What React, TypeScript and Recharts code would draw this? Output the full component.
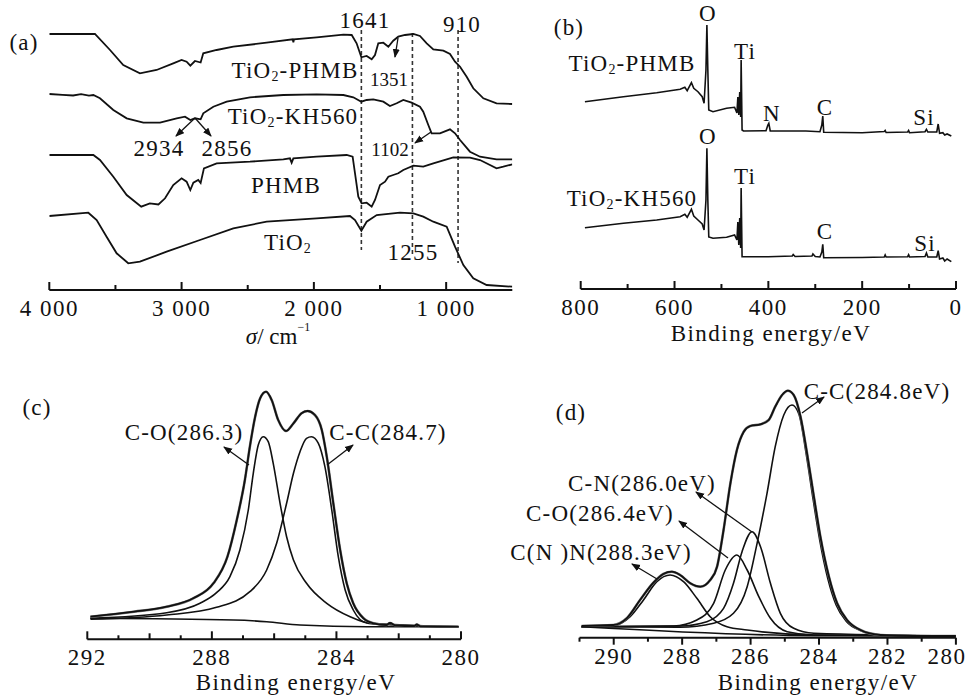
import React from 'react';
import { LineChart, Line, XAxis, YAxis, ReferenceLine } from 'recharts';

const W = 971;
const H = 697;
const FONT = '"Liberation Serif", "Times New Roman", serif';
const FS = 23;

// ---------------- Panel (a) FTIR : [wavenumber, offset] ----------------
const A_TICKS = [4000, 3500, 3000, 2500, 2000, 1500, 1000];
const A_LABELED = [4000, 3000, 2000, 1000];
const A_PEAKS = [1641, 1255, 910];
const A_PEAK_SPAN: [number, number][] = [[30, 250], [33, 257], [30, 263]];

const FTIR_TIO2_PHMB: [number, number][] = [
  [4000, 34], [3655, 34], [3541, 50], [3441, 65], [3315, 73.3], [3189, 70], [3063, 63.3], [3000, 60],
  [2962, 61.7], [2934, 65.7], [2899, 61], [2856, 62.5], [2836, 53.3], [2735, 50], [2609, 46.7], [2357, 42.7],
  [2160, 39.3], [2155, 42.3], [2150, 39.3], [1979, 37.3], [1777, 34.7], [1714, 35], [1677, 43.3], [1641, 57.3],
  [1601, 56], [1563, 59.3], [1538, 55], [1513, 43.3], [1475, 42.7], [1437, 46.7], [1400, 40.7], [1362, 36.7],
  [1311, 35], [1248, 34], [1198, 36], [1147, 43.3], [1097, 49.3], [1021, 50.7], [971, 54], [933, 61.7],
  [895, 66.7], [845, 76.7], [795, 88.3], [719, 98.3], [619, 103.3], [500, 104],
];
const FTIR_TIO2_KH560: [number, number][] = [
  [4000, 94], [3900, 94.8], [3820, 95.5], [3760, 94.2], [3700, 95.6], [3667, 95], [3617, 98.3], [3516, 110],
  [3415, 118.3], [3289, 122.7], [3163, 122.7], [3037, 118.3], [2974, 116.7], [2934, 120], [2899, 118.3],
  [2856, 119.3], [2836, 113.3], [2760, 106.7], [2659, 101.7], [2483, 97.3], [2231, 95], [1979, 94.3],
  [1777, 95], [1702, 97.3], [1641, 101.7], [1601, 100], [1551, 99.3], [1475, 101.7], [1425, 106],
  [1374, 103.3], [1324, 100], [1261, 102.7], [1198, 106.7], [1173, 111.7], [1135, 125], [1110, 133.3],
  [1047, 133.3], [971, 129.3], [933, 133.3], [895, 140], [820, 151.7], [744, 156.7], [619, 159.3], [500, 159.3],
];
const FTIR_PHMB: [number, number][] = [
  [4000, 155], [3667, 155], [3617, 160], [3516, 176.7], [3415, 195], [3305, 206.7], [3240, 203.3],
  [3175, 204.5], [3125, 198.3], [3063, 185], [3000, 178.3], [2962, 181.7], [2934, 190], [2911, 182.7],
  [2874, 180], [2856, 183], [2831, 168.3], [2735, 163.3], [2483, 161.7], [2231, 159.3], [2181, 158.3],
  [2168, 162.7], [2155, 158.3], [1979, 156.7], [1752, 155], [1707, 156.7], [1689, 173.3], [1664, 196.7],
  [1639, 203.3], [1601, 202.7], [1563, 206.7], [1538, 200], [1500, 185], [1462, 181.7], [1437, 176.7],
  [1400, 175], [1362, 173.3], [1324, 170], [1248, 165.7], [1173, 166.7], [1097, 163.3], [946, 157.3],
  [820, 157.7], [744, 160], [619, 168.3], [568, 166.7], [500, 164.3],
];
const FTIR_TIO2: [number, number][] = [
  [4000, 216], [3705, 212.7], [3642, 220], [3567, 236.7], [3491, 253.3], [3403, 263.3], [3315, 261.7],
  [3113, 251.7], [2861, 240], [2609, 228.3], [2357, 221.7], [1979, 218.3], [1727, 216], [1689, 220],
  [1641, 230.7], [1601, 221.7], [1525, 215], [1349, 212.7], [1248, 213.3], [1173, 216.7], [1097, 221.7],
  [996, 226.7], [933, 246.7], [870, 265], [795, 278.3], [694, 285], [500, 286.7],
];

// ---------------- Panel (b) XPS survey : [binding energy, offset] ----------------
const B_TICKS = [800, 700, 600, 500, 400, 300, 200, 100, 0];
const B_LABELED = [800, 600, 400, 200, 0];
const XPS_PHMB: [number, number][] = [
  [791, 101.7], [709, 96.7], [638, 92.7], [588, 89.3], [578, 87.3], [573, 90.7], [564, 82.7], [559, 88.3],
  [550, 91.7], [541, 96.7], [537, 103.3], [533, 70], [531, 25], [529, 70], [527, 110], [518, 111.7],
  [489, 108.3], [472, 107.3], [467, 113], [465, 97], [463, 115], [461, 92], [459, 117], [458, 60],
  [456, 130], [453, 131], [405, 130.7], [401, 125], [399, 123.3], [396, 131], [320, 131], [290, 131.7],
  [286, 125], [284, 116], [282, 132.3], [200, 132.7], [153, 131.5], [151, 130.5], [149, 132.5], [103, 132],
  [101, 130.5], [99, 132.7], [66, 131.7], [63, 129.3], [60, 132], [41, 132], [38, 124], [35, 133.3],
  [28, 132.7], [24, 135], [19, 134], [10, 136],
];
const XPS_KH560: [number, number][] = [
  [791, 227.7], [709, 223.3], [638, 220], [588, 216.7], [578, 214.3], [573, 217.3], [564, 209.3], [559, 216],
  [550, 220], [541, 224], [537, 230], [533, 200], [531, 148.3], [529, 200], [527, 237], [518, 238.3],
  [489, 237.3], [472, 235], [467, 240], [465, 222], [463, 245], [461, 218], [459, 248], [458, 188],
  [456, 256.7], [453, 256.7], [400, 256.7], [349, 256], [347, 254.5], [343, 256.5], [307, 256], [305, 254],
  [300, 256.5], [290, 257], [286, 252], [284, 244.3], [282, 257.7], [200, 257.5], [153, 257], [151, 255],
  [149, 257], [103, 256.7], [101, 254.7], [99, 257], [66, 256.5], [63, 253], [60, 257], [41, 257],
  [38, 250.7], [35, 259], [28, 258], [24, 261], [19, 259], [10, 261.7],
];

// ---------------- Panel (c) C1s TiO2-KH560 : [binding energy, offset] ----------------
const C_TICKS = [292, 291, 290, 289, 288, 287, 286, 285, 284, 283, 282, 281, 280];
const C_LABELED = [292, 288, 284, 280];
const C_MEDIUM = [290, 286, 282];
const C1S_C_ENV: [number, number][] = [
  [291.9, 616.7], [290.5, 611.7], [289.45, 606.7], [288.6, 598.3], [287.95, 583.3], [287.5, 556.7],
  [287.2, 520], [286.94, 480], [286.78, 446.7], [286.61, 416.7], [286.45, 398.3], [286.26, 391.7],
  [286.08, 400], [285.87, 420], [285.62, 431], [285.38, 423.3], [285.12, 413.3], [284.93, 411],
  [284.69, 415], [284.47, 430], [284.31, 456.7], [284.1, 503.3], [283.88, 550], [283.67, 583.3],
  [283.46, 603.3], [283.13, 618.3], [282.81, 623.3], [282.4, 625], [282.28, 623], [282.1, 625.5],
  [281.5, 626], [281.42, 624.5], [281.3, 626.3], [280.08, 626.7],
];
const C1S_C_CO: [number, number][] = [
  [291.9, 618.3], [289.45, 612.7], [288.38, 603.3], [287.85, 592.7], [287.42, 576.7], [287.1, 550],
  [286.83, 510], [286.67, 473.3], [286.51, 445], [286.35, 436.7], [286.19, 441.7], [286.03, 463.3],
  [285.81, 503.3], [285.6, 536.7], [285.38, 560], [284.96, 583.3], [284.31, 603.3], [283.56, 616.7],
  [282.81, 624], [280.08, 626.7],
];
const C1S_C_CC: [number, number][] = [
  [291.9, 619.3], [289.45, 615], [287.85, 607.3], [286.78, 591.7], [286.24, 570], [285.92, 543.3],
  [285.6, 503.3], [285.38, 473.3], [285.17, 451.7], [284.96, 438.3], [284.8, 436.7], [284.58, 443.3],
  [284.37, 466.7], [284.15, 510], [283.94, 556.7], [283.72, 590], [283.46, 610], [283.03, 622.7],
  [280.08, 626.7],
];
const C1S_C_BG: [number, number][] = [
  [291.9, 618.3], [287.3, 620], [286.24, 621.7], [285.17, 625], [283.03, 626.7], [280.08, 626.7],
];

// ---------------- Panel (d) C1s TiO2-PHMB : [binding energy, offset] ----------------
const D_TICKS = [291, 290, 289, 288, 287, 286, 285, 284, 283, 282, 281, 280];
const D_LABELED = [290, 288, 286, 284, 282, 280];
const C1S_D_ENV: [number, number][] = [
  [290.94, 626], [290.01, 625], [289.62, 618.3], [289.23, 600], [288.84, 582.7], [288.55, 574],
  [288.3, 571.7], [288.06, 575], [287.76, 583.3], [287.47, 586.7], [287.18, 580], [286.98, 566.7],
  [286.79, 530], [286.59, 483.3], [286.4, 450], [286.2, 431.7], [286.01, 426], [285.71, 424.3],
  [285.47, 420], [285.28, 406.7], [285.08, 395], [284.91, 390.7], [284.74, 395], [284.54, 416.7],
  [284.35, 453.3], [284.15, 496.7], [283.96, 536.7], [283.71, 576.7], [283.47, 603.3], [283.18, 620],
  [282.79, 630], [282.2, 635], [281.23, 636], [280.0, 636],
];
const C1S_D_CC: [number, number][] = [
  [290.94, 626.7], [288.06, 627.3], [287.08, 623.3], [286.5, 613.3], [286.1, 586.7], [285.81, 543.3],
  [285.52, 493.3], [285.28, 446.7], [285.03, 415], [284.79, 405], [284.59, 414], [284.37, 455],
  [284.17, 500], [283.98, 540], [283.74, 579], [283.5, 605], [283.2, 621.5], [282.79, 630.5],
  [282.2, 635], [280.0, 636],
];
const C1S_D_CN: [number, number][] = [
  [290.94, 626.7], [288.06, 626], [287.28, 621.7], [286.79, 608.3], [286.5, 583.3], [286.25, 551.7],
  [285.96, 531.7], [285.71, 546.7], [285.42, 583.3], [285.13, 613.3], [284.74, 628.3], [284.15, 633.3],
  [280.0, 636],
];
const C1S_D_CO: [number, number][] = [
  [290.94, 626.7], [288.25, 626], [287.57, 620], [287.08, 603.3], [286.74, 570], [286.4, 555],
  [286.1, 570], [285.76, 596.7], [285.42, 618.3], [284.93, 631.7], [284.15, 635], [280.0, 636],
];
const C1S_D_CNN: [number, number][] = [
  [290.94, 626.7], [290.01, 625.7], [289.52, 616.7], [289.13, 600], [288.74, 581.7], [288.35, 575],
  [287.96, 581.7], [287.57, 598.3], [287.18, 616.7], [286.69, 626.7], [286.1, 630], [284.15, 635],
  [280.0, 636],
];
const C1S_D_BG: [number, number][] = [[290.94, 626.7], [284.15, 635.7], [280.0, 636]];

// ---------------- helpers ----------------
const pts = (a: [number, number][]) => a.map(([x, y]) => ({ x, y }));

const fmtA = (v: number) => (v >= 1000 ? `${Math.floor(v / 1000)} ${String(v % 1000).padStart(3, '0')}` : String(v));

const makeTick = (
  labeled: number[],
  medium: number[],
  fmt: (v: number) => string,
  up: boolean,
  lens: [number, number, number],
  labelDy: number,
  edgeShift: Record<number, number> = {},
) => (props: any) => {
  const { x, y, payload } = props;
  const v = payload.value;
  const isMajor = labeled.includes(v);
  const isMed = medium.includes(v);
  const len = isMajor ? lens[0] : isMed ? lens[1] : lens[2];
  const dx = edgeShift[v] || 0;
  return (
    <g>
      <line x1={x} x2={x} y1={y} y2={up ? y - len : y + len} stroke="#111" strokeWidth={2} />
      {isMajor && (
        <text x={x + dx} y={y + labelDy} textAnchor="middle" dominantBaseline="central" fontFamily={FONT}
          fontSize={FS} letterSpacing={1.5} fill="#111">
          {fmt(v)}
        </text>
      )}
    </g>
  );
};

type PanelProps = {
  left: number; right: number; top: number; bottom: number;
  xDomain: [number, number]; ticks: number[]; tick: any;
  children: React.ReactNode;
};

const Panel = ({ left, right, top, bottom, xDomain, ticks, tick, children }: PanelProps) => (
  <div style={{ position: 'absolute', left: 0, top: 0 }}>
    <LineChart width={W} height={H}
      margin={{ left, right: W - right, top, bottom: H - bottom - 40 }}>
      <XAxis dataKey="x" type="number" domain={xDomain} reversed ticks={ticks} interval={0}
        allowDataOverflow height={40} tickSize={0} tickMargin={0} tickLine={false}
        axisLine={{ stroke: '#111', strokeWidth: 2 }} tick={tick} />
      <YAxis hide type="number" domain={[top, bottom]} reversed allowDataOverflow />
      {children}
    </LineChart>
  </div>
);

const line = (key: string, data: [number, number][], w = 1.8, type: any = 'linear', color = '#111') => (
  <Line key={key} data={pts(data)} dataKey="y" type={type} stroke={color} strokeWidth={w}
    dot={false} activeDot={false} isAnimationActive={false} />
);

const T = ({ x, y, size = FS, children, ls = 1.2 }: any) => (
  <text x={x} y={y} textAnchor="middle" dominantBaseline="central" fontFamily={FONT} fontSize={size}
    letterSpacing={ls} fill="#111">
    {children}
  </text>
);

// label of the form TiO2-xxx with a subscript 2
const TiO2 = ({ x, y, rest }: { x: number; y: number; rest?: string }) => (
  <T x={x} y={y}>
    TiO<tspan fontSize={14} dy={6}>2</tspan>
    {rest ? <tspan dy={-6}>{rest}</tspan> : null}
  </T>
);

const Arrow = ({ x1, y1, x2, y2 }: any) => (
  <line x1={x1} y1={y1} x2={x2} y2={y2} stroke="#111" strokeWidth={1.3} markerEnd="url(#ah)" />
);

export default function App() {
  return (
    <div style={{ position: 'absolute', left: 0, top: 0, width: W, height: H, background: '#fff', overflow: 'hidden' }}>
      {/* (a) */}
      <Panel left={49.3} right={512.3} top={0} bottom={290} xDomain={[500, 4000]} ticks={A_TICKS}
        tick={makeTick(A_LABELED, [], fmtA, true, [8, 5, 5], 18)}>
        {A_PEAKS.map((p, i) => (
          <ReferenceLine key={p} segment={[{ x: p, y: A_PEAK_SPAN[i][0] }, { x: p, y: A_PEAK_SPAN[i][1] }]}
            stroke="#333" strokeWidth={1.6} strokeDasharray="4 3" ifOverflow="visible" />
        ))}
        {line('a1', FTIR_TIO2_PHMB)}
        {line('a2', FTIR_TIO2_KH560)}
        {line('a3', FTIR_PHMB)}
        {line('a4', FTIR_TIO2)}
      </Panel>
      {/* (b) */}
      <Panel left={580.7} right={956} top={0} bottom={289} xDomain={[0, 800]} ticks={B_TICKS}
        tick={makeTick(B_LABELED, [], String, true, [8, 5, 5], 18)}>
        {line('b1', XPS_PHMB, 1.6)}
        {line('b2', XPS_KH560, 1.6)}
      </Panel>
      {/* (c) */}
      <Panel left={87.3} right={461} top={360} bottom={639.3} xDomain={[280, 292]} ticks={C_TICKS}
        tick={makeTick(C_LABELED, C_MEDIUM, String, true, [8, 6, 4], 18)}>
        {line('c0', C1S_C_BG, 1.6, 'monotone')}
        {line('c1', C1S_C_CO, 1.6, 'monotone')}
        {line('c2', C1S_C_CC, 1.6, 'monotone')}
        {line('c3', C1S_C_ENV, 2.6, 'monotone', '#777')}
        {line('c4', C1S_C_ENV, 1.8, 'monotone')}
      </Panel>
      {/* (d) */}
      <Panel left={579.5} right={955.9} top={360} bottom={637.7} xDomain={[280, 291]} ticks={D_TICKS}
        tick={makeTick(D_LABELED, [], String, false, [7, 4, 4], 19, { 280: -9 })}>
        {line('d0', C1S_D_BG, 1.6, 'monotone')}
        {line('d1', C1S_D_CNN, 1.6, 'monotone')}
        {line('d2', C1S_D_CO, 1.6, 'monotone')}
        {line('d3', C1S_D_CN, 1.6, 'monotone')}
        {line('d4', C1S_D_CC, 1.6, 'monotone')}
        {line('d5', C1S_D_ENV, 2.6, 'monotone', '#777')}
        {line('d6', C1S_D_ENV, 1.8, 'monotone')}
      </Panel>

      {/* annotations */}
      <svg width={W} height={H} style={{ position: 'absolute', left: 0, top: 0 }}>
        <defs>
          <marker id="ah" markerWidth="9" markerHeight="8" refX="8" refY="4" orient="auto" markerUnits="userSpaceOnUse">
            <path d="M0,0.5 L9,4 L0,7.5 z" fill="#111" />
          </marker>
        </defs>
        {/* (a) */}
        <T x={24} y={42}>(a)</T>
        <T x={365} y={20}>1641</T>
        <T x={462} y={24}>910</T>
        <TiO2 x={295} y={70} rest="-PHMB" />
        <T x={389} y={79} size={19} ls={0}>1351</T>
        <TiO2 x={293} y={116} rest="-KH560" />
        <T x={159} y={148}>2934</T>
        <T x={227} y={148}>2856</T>
        <T x={390} y={149} size={19} ls={0}>1102</T>
        <T x={286} y={185}>PHMB</T>
        <TiO2 x={288} y={242} />
        <T x={413} y={252}>1255</T>
        <Arrow x1={398} y1={38} x2={395} y2={57} />
        <Arrow x1={195} y1={118} x2={176} y2={136} />
        <Arrow x1={195} y1={118} x2={211} y2={136} />
        <Arrow x1={431} y1={132} x2={415} y2={143} />
        <text x={278} y={336} textAnchor="middle" dominantBaseline="central" fontFamily={FONT} fontSize={FS} fill="#111">
          <tspan fontStyle="italic">σ</tspan>/ cm<tspan fontSize={12} dy={-9}>−1</tspan>
        </text>

        {/* (b) */}
        <T x={569} y={27}>(b)</T>
        <T x={708} y={13}>O</T>
        <T x={745} y={51}>Ti</T>
        <TiO2 x={632} y={63} rest="-PHMB" />
        <T x={772} y={113}>N</T>
        <T x={825} y={107}>C</T>
        <T x={924} y={117}>Si</T>
        <T x={708} y={136}>O</T>
        <T x={745} y={176}>Ti</T>
        <TiO2 x={632} y={198} rest="-KH560" />
        <T x={825} y={231}>C</T>
        <T x={925} y={243}>Si</T>
        <T x={771} y={333} ls={1.5}>Binding energy/eV</T>

        {/* (c) */}
        <T x={37} y={407}>(c)</T>
        <T x={184} y={432}>C-O(286.3)</T>
        <T x={388} y={432}>C-C(284.7)</T>
        <Arrow x1={249} y1={465} x2={224} y2={447} />
        <Arrow x1={327} y1={465} x2={353} y2={445} />
        <T x={296} y={682} ls={1.5}>Binding energy/eV</T>

        {/* (d) */}
        <T x={571} y={412}>(d)</T>
        <T x={877} y={391}>C-C(284.8eV)</T>
        <T x={642} y={483}>C-N(286.0eV)</T>
        <T x={600} y={513}>C-O(286.4eV)</T>
        <T x={601} y={552}>C(N )N(288.3eV)</T>
        <Arrow x1={802} y1={413} x2={824} y2={397} />
        <Arrow x1={752} y1={532} x2={696} y2={492} />
        <Arrow x1={728} y1={558} x2={679} y2={521} />
        <Arrow x1={657} y1={579} x2={632} y2={564} />
        <T x={818} y={682} ls={1.5}>Binding energy/eV</T>
      </svg>
    </div>
  );
}
